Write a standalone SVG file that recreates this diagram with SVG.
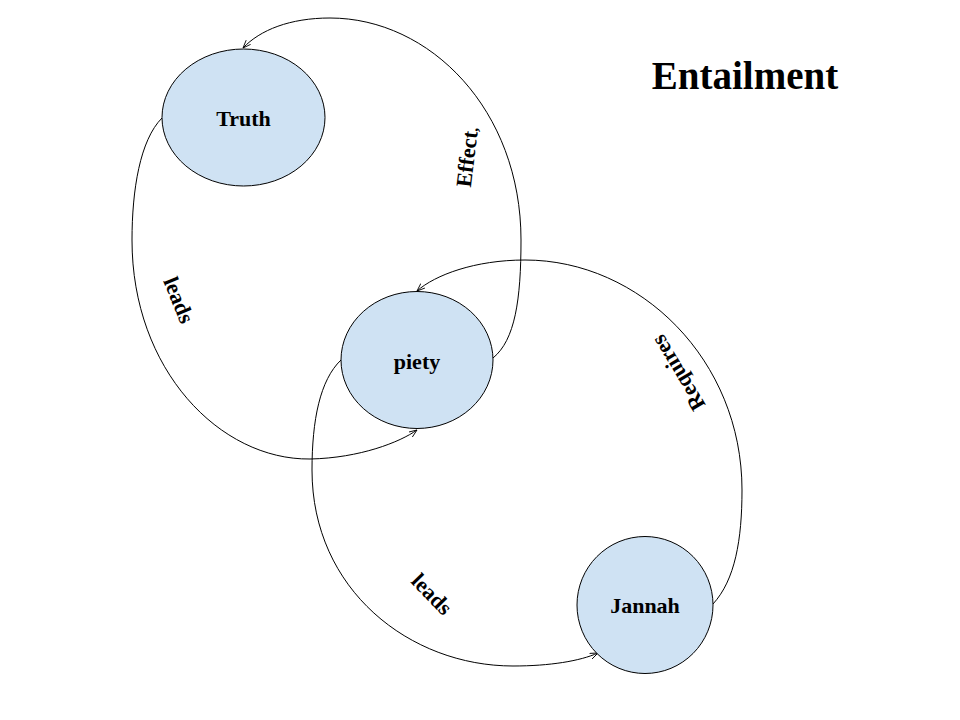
<svg xmlns="http://www.w3.org/2000/svg" width="960" height="720" viewBox="0 0 960 720">
<style>
.node{fill:#cfe2f3;stroke:#000;stroke-width:1}
.lbl{font-family:"Liberation Serif",serif;font-weight:bold;font-size:22px;fill:#000;text-anchor:middle}
.edge{fill:none;stroke:#000;stroke-width:1;marker-end:url(#arr)}
.title{font-family:"Liberation Serif",serif;font-weight:bold;font-size:39px;fill:#000;text-anchor:middle}
</style>
<defs>
<marker id="arr" viewBox="0 0 10 8" refX="9" refY="4" markerWidth="9" markerHeight="7" markerUnits="userSpaceOnUse" orient="auto">
<path d="M0,0.5 L9,4 L0,7.5" fill="none" stroke="#000" stroke-width="1"/>
</marker>
</defs>
<rect width="960" height="720" fill="#fff"/>
<g id="connectors">
<path class="edge" d="M493 358 C515 340 521 300 521 240 C521 110 430 18 330 18 C290 18 260 30 243 48"/>
<path class="edge" d="M162 118 C140 140 132 190 132 240 C132 370 220 460 310 459 C360 458 400 442 417 430"/>
<path class="edge" d="M713 604 C735 580 742 540 742 490 C742 360 640 260 525 260 C475 260 435 275 417 291"/>
<path class="edge" d="M341 360 C320 380 312 420 312 470 C312 590 410 666 513 666 C550 666 580 661 598 653"/>
<text class="lbl" transform="translate(467,157) rotate(-83)" y="7.5">Effect<tspan font-size="16px">,</tspan></text>
<text class="lbl" transform="translate(179,300) rotate(68)" y="7.5">leads</text>
<text class="lbl" transform="translate(678,373) rotate(239)" y="7.5">Requires</text>
<text class="lbl" transform="translate(432,594) rotate(46)" y="7.5">leads</text>
</g>
<g id="truth">
<ellipse class="node" cx="243.5" cy="117.5" rx="81.5" ry="68.5"/>
<text class="lbl" x="243.5" y="125.5">Truth</text>
</g>
<g id="piety">
<ellipse class="node" cx="417" cy="360" rx="76" ry="68.5"/>
<text class="lbl" x="417" y="368.5">piety</text>
</g>
<g id="jannah">
<ellipse class="node" cx="645" cy="605" rx="68" ry="68.5"/>
<text class="lbl" x="645" y="612.5">Jannah</text>
</g>
<g id="title">
<text class="title" x="745" y="89">Entailment</text>
</g>
</svg>
